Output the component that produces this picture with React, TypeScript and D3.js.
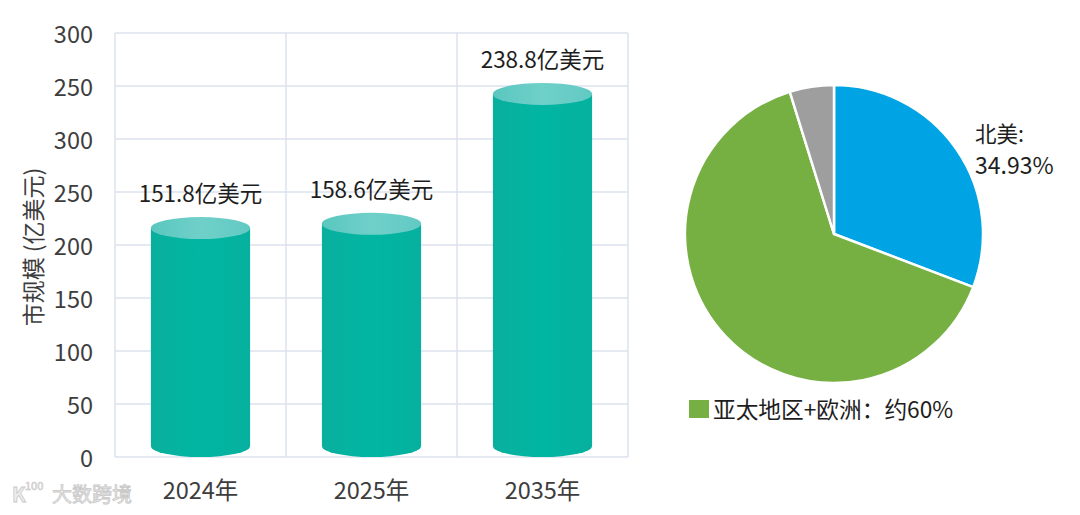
import React from "react";
import * as d3 from "d3";

const years = ["2024年", "2025年", "2035年"];
const barValues = [216, 220, 342.5];
const barLabels = ["151.8亿美元", "158.6亿美元", "238.8亿美元"];
const tickValues = [0, 50, 100, 150, 200, 250, 300, 350, 400];
const tickLabels = ["0", "50", "100", "150", "200", "250", "300", "250", "300"];
const yTitle = "市规模 (亿美元)";

const regions = ["北美", "亚太地区+欧洲", "其他"];
const shares = [30.8, 64.4, 4.8];
const pieColors = ["#00A4E4", "#76B043", "#9E9E9E"];

const FONT = "'Noto Sans CJK SC', 'Noto Sans', sans-serif";

export default function App() {
  const W = 1080, H = 515;
  const y = d3.scaleLinear().domain([0, 400]).range([457, 33]);
  const x = d3.scaleBand<string>().domain(years).range([115, 628]).paddingInner(0).paddingOuter(0);
  const bw = x.bandwidth() * 0.58;
  const ry = 11;
  const yb = y(0) - ry;

  const pie = d3.pie<number>().sort(null).value((d) => d);
  const arcs = pie(shares);
  const arc = d3.arc<d3.PieArcDatum<number>>().innerRadius(0).outerRadius(149);
  const cx = 834, cy = 234;

  const bounds = [115, ...years.map((yy) => (x(yy) as number) + x.bandwidth())];

  return (
    <svg width={W} height={H} style={{ position: "absolute", left: 0, top: 0, background: "#fff" }} fontFamily={FONT}>
      <defs>
        <linearGradient id="side" x1="0" x2="1" y1="0" y2="0">
          <stop offset="0" stopColor="#0aaf9d" />
          <stop offset="0.5" stopColor="#00b6a3" />
          <stop offset="1" stopColor="#06b09e" />
        </linearGradient>
        <linearGradient id="top" x1="0" x2="1" y1="0" y2="0">
          <stop offset="0" stopColor="#5ac7bf" />
          <stop offset="0.5" stopColor="#6fd0c9" />
          <stop offset="1" stopColor="#62cac3" />
        </linearGradient>
      </defs>
      {tickValues.map((t) => (
        <line key={t} x1={115} x2={628} y1={y(t)} y2={y(t)} stroke="#dbe2ee" strokeWidth={1.5} />
      ))}
      {bounds.map((b, i) => (
        <line key={i} x1={b} x2={b} y1={y(400)} y2={y(0)} stroke="#dbe2ee" strokeWidth={1.5} />
      ))}
      {tickValues.map((t, i) => (
        <text key={t} x={93} y={y(t)} textAnchor="end" dominantBaseline="central" fontSize={23.5} fill="#3d3d3d">
          {tickLabels[i]}
        </text>
      ))}
      <text transform={`translate(32,247) rotate(-90)`} textAnchor="middle" dominantBaseline="central" fontSize={23} fill="#3d3d3d">
        {yTitle}
      </text>
      {years.map((yr, i) => {
        const cxb = (x(yr) as number) + x.bandwidth() / 2;
        const x0 = cxb - bw / 2, x1 = cxb + bw / 2;
        const yt = y(barValues[i]);
        const rx = bw / 2;
        const d = `M${x0},${yt} L${x0},${yb} A${rx},${ry} 0 0 0 ${x1},${yb} L${x1},${yt} Z`;
        return (
          <g key={yr}>
            <path d={d} fill="url(#side)" />
            <ellipse cx={cxb} cy={yt} rx={rx} ry={ry} fill="url(#top)" />
            <text x={cxb} y={yt - ry - 15} textAnchor="middle" fontSize={22.5} fill="#1e1e1e">
              {barLabels[i]}
            </text>
            <text x={cxb} y={489} textAnchor="middle" dominantBaseline="central" fontSize={23.5} fill="#3d3d3d">
              {yr}
            </text>
          </g>
        );
      })}
      <g transform={`translate(${cx},${cy})`}>
        {arcs.map((a, i) => (
          <path key={regions[i]} d={arc(a) as string} fill={pieColors[i]} stroke="#fff" strokeWidth={2.5} strokeLinejoin="round" />
        ))}
      </g>
      <text x={975} y={142} fontSize={21.5} fill="#1e1e1e">北美:</text>
      <text x={975} y={174} fontSize={23} fill="#1e1e1e">34.93%</text>
      <rect x={689} y={400} width={20} height={18} fill={pieColors[1]} />
      <text x={713} y={418} fontSize={22.7} fill="#1e1e1e">亚太地区+欧洲：约60%</text>
      <text x={12} y={502} fontSize={20} fill="#eeeeee" stroke="#c8c8c8" strokeWidth={0.8} fontWeight="bold">K</text>
      <text x={25} y={490} fontSize={11} fill="#eeeeee" stroke="#c8c8c8" strokeWidth={0.6}>100</text>
      <text x={52} y={502} fontSize={20} fill="#eeeeee" stroke="#c8c8c8" strokeWidth={0.8}>大数跨境</text>
    </svg>
  );
}
